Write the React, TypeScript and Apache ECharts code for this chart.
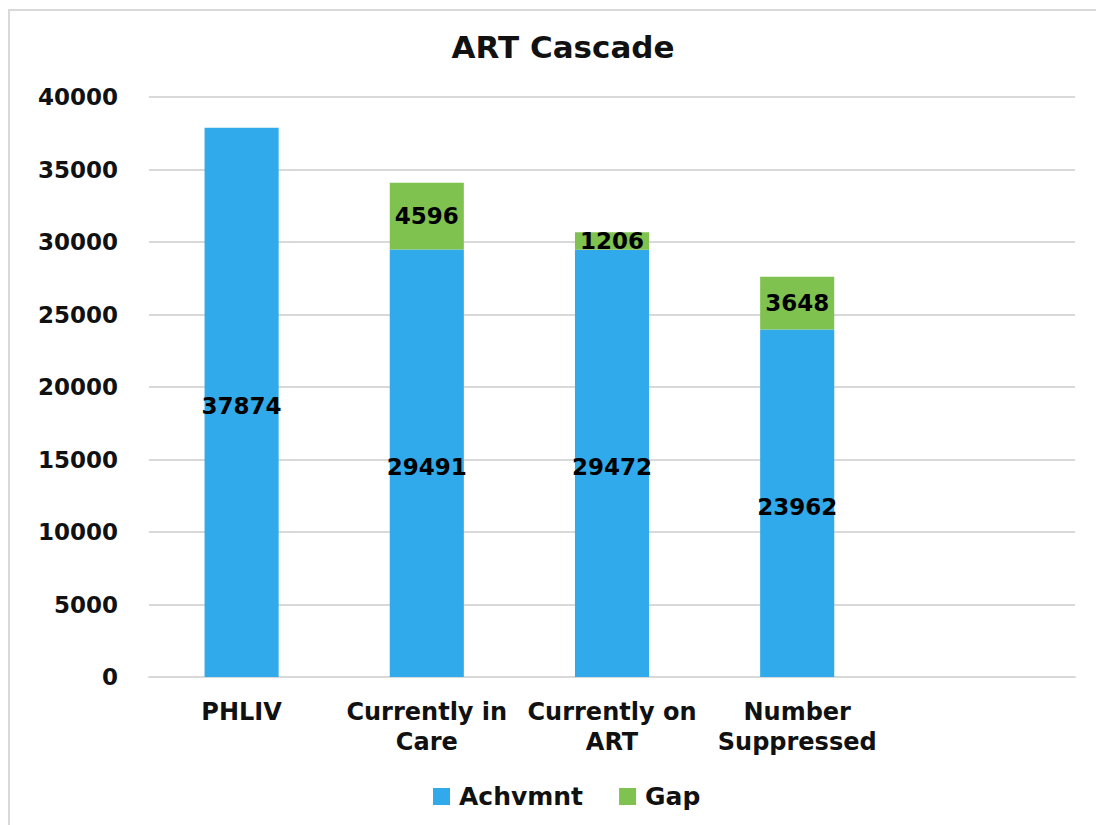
import React, { useEffect, useRef } from "react";
import * as echarts from "echarts";

const categories = ["PHLIV", "Currently in\nCare", "Currently on\nART", "Number\nSuppressed", ""];
const achvmnt: (number | null)[] = [37874, 29491, 29472, 23962, null];
const gap: (number | null)[] = [null, 4596, 1206, 3648, null];
const yTicks = { min: 0, max: 40000, interval: 5000 };

const FONT = "'DejaVu Sans', sans-serif";

export default function App() {
  const ref = useRef<HTMLDivElement>(null);
  useEffect(() => {
    if (!ref.current) return;
    document.body.style.margin = "0";
    document.body.style.overflow = "hidden";
    const chart = echarts.init(ref.current, null, { renderer: "svg" });
    chart.setOption({
      animation: false,
      backgroundColor: "#ffffff",
      title: {
        text: "ART Cascade",
        left: 558,
        top: 26,
        textAlign: "center",
        textStyle: { fontFamily: FONT, fontSize: 31, fontWeight: 700, color: "#111" },
      },
      legend: {
        data: ["Achvmnt", "Gap"],
        left: 428,
        top: 779,
        itemWidth: 17,
        itemHeight: 17,
        itemGap: 36,
        icon: "rect",
        textStyle: { fontFamily: FONT, fontSize: 25, fontWeight: 700, color: "#111", padding: [0, 0, 0, 4] },
      },
      graphic: [
        { type: "line", shape: { x1: 9, y1: 10, x2: 9, y2: 830 }, style: { stroke: "#d9d9d9", lineWidth: 2 } },
        { type: "line", shape: { x1: 8, y1: 10, x2: 1100, y2: 10 }, style: { stroke: "#d9d9d9", lineWidth: 2 } },
      ],
      grid: { left: 149, right: 21, top: 97, bottom: 148, containLabel: false },
      xAxis: {
        type: "category",
        data: categories,
        axisLine: { lineStyle: { color: "#d9d9d9", width: 2 } },
        axisTick: { show: false },
        axisLabel: {
          interval: 0,
          margin: 20,
          lineHeight: 30,
          fontFamily: FONT,
          fontSize: 24,
          fontWeight: 700,
          color: "#111",
        },
      },
      yAxis: {
        type: "value",
        min: yTicks.min,
        max: yTicks.max,
        interval: yTicks.interval,
        axisLine: { show: false },
        axisTick: { show: false },
        splitLine: { lineStyle: { color: "#d9d9d9", width: 2 } },
        axisLabel: {
          margin: 31,
          fontFamily: FONT,
          fontSize: 23,
          fontWeight: 700,
          color: "#111",
          formatter: (v: number) => String(v),
        },
      },
      series: [
        {
          name: "Achvmnt",
          type: "bar",
          stack: "total",
          barWidth: "40%",
          data: achvmnt,
          itemStyle: { color: "#30AAEA" },
          label: {
            show: true,
            position: "inside",
            offset: [0, 4],
            fontFamily: FONT,
            fontSize: 23,
            fontWeight: 700,
            color: "#000",
          },
        },
        {
          name: "Gap",
          type: "bar",
          stack: "total",
          barWidth: "40%",
          data: gap,
          itemStyle: { color: "#80C24F" },
          label: {
            show: true,
            position: "inside",
            fontFamily: FONT,
            fontSize: 23,
            fontWeight: 700,
            color: "#000",
          },
        },
      ],
    });
    return () => chart.dispose();
  }, []);
  return <div ref={ref} style={{ width: 1096, height: 825 }} />;
}
